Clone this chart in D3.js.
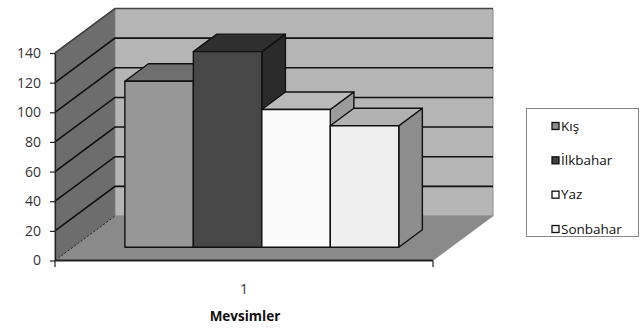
<!DOCTYPE html>
<html>
<head>
<meta charset="utf-8">
<script src="https://cdn.jsdelivr.net/npm/d3@7/dist/d3.min.js"></script>
<style>
  html, body { margin: 0; padding: 0; background: #fff; }
  svg { display: block; }
  text { font-family: "Open Sans", "Liberation Sans", sans-serif; }
</style>
</head>
<body>
<svg id="chart" width="641" height="328"></svg>
<script>
// Seasonal values, one category with four series
const categories = ["1"];
const seriesNames = ["Kış", "İlkbahar", "Yaz", "Sonbahar"];
const seriesValues = [112, 132, 93, 82];
const yTicks = [0, 20, 40, 60, 80, 100, 120, 140];
const axisTitle = "Mevsimler";

// Styling per series: front, top and side faces of each 3D column
const faceColors = [
  { front: "#979797", top: "#6f6f6f", side: "#6a6a6a", swatch: "#8c8c8c" },
  { front: "#474747", top: "#2f2f2f", side: "#2b2b2b", swatch: "#3e3e3e" },
  { front: "#fbfbfb", top: "#bababa", side: "#9b9b9b", swatch: "#ffffff" },
  { front: "#efefef", top: "#b1b1b1", side: "#8e8e8e", swatch: "#f2f2f2" }
];

const svg = d3.select("#chart");

// Front plane of the plot box and its oblique depth offset
const plot = { left: 55, right: 433, top: 53, bottom: 260.5 };
const depth = { dx: 60, dy: -44.5 };
const barDepth = { from: 0.297, to: 0.69 };

const y = d3.scaleLinear().domain([0, 140]).range([plot.bottom, plot.top]);
const x0 = d3.scaleBand().domain(categories).range([plot.left, plot.right]);
const x1 = d3.scaleBand().domain(seriesNames).range([0, x0.bandwidth()])
  .paddingInner(0).paddingOuter(0.76);

// project a point (front-plane x, value, depth fraction t) into screen space
const P = (px, v, t) => [px + depth.dx * t, y(v) + depth.dy * t];
const poly = pts => pts.map(p => p.join(",")).join(" ");

const walls = svg.append("g");
const yMax = y.domain()[1];

// left side wall
walls.append("polygon")
  .attr("points", poly([P(plot.left, 0, 0), P(plot.left, yMax, 0), P(plot.left, yMax, 1), P(plot.left, 0, 1)]))
  .attr("fill", "#6d6d6d").attr("stroke", "#555").attr("stroke-width", 1);
// back wall
walls.append("polygon")
  .attr("points", poly([P(plot.left, 0, 1), P(plot.left, yMax, 1), P(plot.right, yMax, 1), P(plot.right, 0, 1)]))
  .attr("fill", "#b5b5b5").attr("stroke", "#8a8a8a").attr("stroke-width", 1);
// floor
walls.append("polygon")
  .attr("points", poly([P(plot.left, 0, 0), P(plot.right, 0, 0), P(plot.right, 0, 1), P(plot.left, 0, 1)]))
  .attr("fill", "#8a8a8a").attr("stroke", "#8a8a8a").attr("stroke-width", 0.5);

// gridlines on the side wall and the back wall
const grid = svg.append("g");
yTicks.filter(v => v > 0).forEach(v => {
  grid.append("polyline")
    .attr("points", poly([P(plot.left, v, 0), P(plot.left, v, 1), P(plot.right, v, 1)]))
    .attr("fill", "none").attr("stroke", v === yMax ? "#444" : "#111").attr("stroke-width", 1.6);
});
// dashed edge where the side wall meets the floor
grid.append("line")
  .attr("x1", P(plot.left, 0, 0)[0]).attr("y1", P(plot.left, 0, 0)[1])
  .attr("x2", P(plot.left, 0, 1)[0]).attr("y2", P(plot.left, 0, 1)[1])
  .attr("stroke", "#222").attr("stroke-width", 1).attr("stroke-dasharray", "2,2");

// 3D columns, drawn left to right so each front covers its neighbour's side
const bars = svg.append("g").attr("stroke", "#111").attr("stroke-width", 1.4).attr("stroke-linejoin", "round");
seriesNames.forEach((name, i) => {
  const v = seriesValues[i];
  const xl = x0(categories[0]) + x1(name);
  const xr = xl + x1.bandwidth();
  const t0 = barDepth.from, t1 = barDepth.to;
  const g = bars.append("g");
  g.append("polygon").attr("fill", faceColors[i].side)
    .attr("points", poly([P(xr, 0, t0), P(xr, v, t0), P(xr, v, t1), P(xr, 0, t1)]));
  g.append("polygon").attr("fill", faceColors[i].top)
    .attr("points", poly([P(xl, v, t0), P(xr, v, t0), P(xr, v, t1), P(xl, v, t1)]));
  g.append("polygon").attr("fill", faceColors[i].front)
    .attr("points", poly([P(xl, 0, t0), P(xr, 0, t0), P(xr, v, t0), P(xl, v, t0)]));
});

// value axis
const yAxis = svg.append("g")
  .attr("transform", `translate(${plot.left},0)`)
  .call(d3.axisLeft(y).tickValues(yTicks).tickSize(5).tickPadding(9).tickSizeOuter(0));
yAxis.select(".domain").attr("stroke", "#222").attr("stroke-width", 1.2);
yAxis.selectAll(".tick line").attr("stroke", "#222").attr("stroke-width", 1.2);
yAxis.selectAll(".tick text").attr("fill", "#333").style("font-size", "14px")
  .style("font-family", "'Open Sans', sans-serif");

// category axis along the front edge of the floor
const xAxis = svg.append("g")
  .attr("transform", `translate(0,${plot.bottom})`)
  .call(d3.axisBottom(x0).tickSize(0).tickPadding(24));
xAxis.select(".domain").attr("stroke", "#222").attr("stroke-width", 2)
  .attr("d", `M${plot.left},0H${plot.right}`);
xAxis.selectAll(".tick text").attr("fill", "#333").style("font-size", "14px")
  .style("font-family", "'Open Sans', sans-serif");
[plot.left, plot.right].forEach(px => {
  xAxis.append("line").attr("x1", px).attr("x2", px).attr("y1", 0).attr("y2", 6.5)
    .attr("stroke", "#222").attr("stroke-width", 1.2);
});

svg.append("text")
  .attr("x", 245).attr("y", 321)
  .attr("text-anchor", "middle")
  .style("font-size", "13.5px").style("font-weight", "bold").attr("fill", "#111")
  .text(axisTitle);

// legend
const legend = svg.append("g").attr("transform", "translate(526,108)");
legend.append("rect").attr("x", 0.5).attr("y", 0.5).attr("width", 112).attr("height", 128)
  .attr("fill", "#fff").attr("stroke", "#888").attr("stroke-width", 1);
const legendY = d3.scalePoint().domain(seriesNames).range([18, 121]);
seriesNames.forEach((name, i) => {
  const item = legend.append("g").attr("transform", `translate(0,${legendY(name)})`);
  item.append("rect").attr("x", 26).attr("y", -3.5).attr("width", 7).attr("height", 7)
    .attr("fill", faceColors[i].swatch).attr("stroke", "#111").attr("stroke-width", 1.3);
  item.append("text").attr("x", 35).attr("y", 4.5)
    .style("font-size", "13.5px").attr("fill", "#111")
    .text(name);
});
</script>
</body>
</html>
